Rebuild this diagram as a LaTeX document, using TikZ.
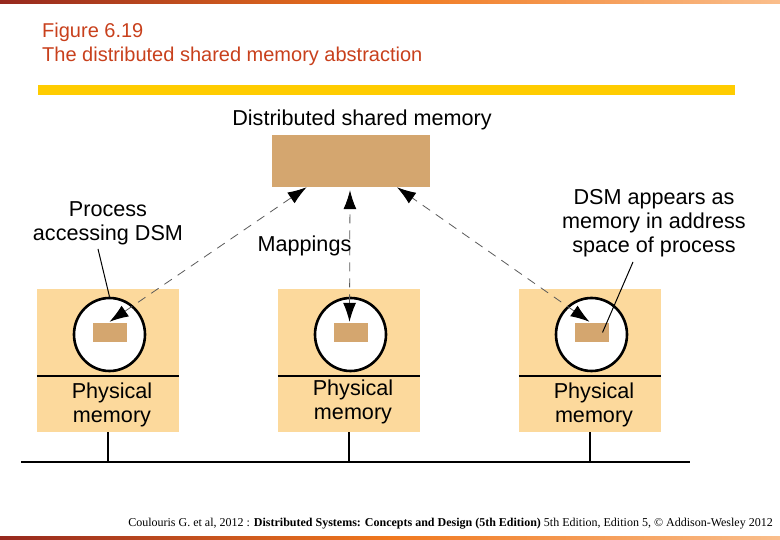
\documentclass[tikz,border=0pt]{standalone}
\usepackage{fontspec}
\setmainfont{Liberation Sans}
\newfontfamily\footfont{Liberation Serif}
\usetikzlibrary{arrows.meta,calc,shapes.geometric}

\definecolor{titlered}{RGB}{200,64,28}
\definecolor{bandyellow}{RGB}{255,204,0}
\definecolor{dsmtan}{RGB}{212,166,111}
\definecolor{machpeach}{RGB}{252,217,156}
\definecolor{mapgrey}{RGB}{90,90,90}

\tikzset{
  machbox/.style={rectangle, fill=machpeach, minimum width=142pt, minimum height=143pt, inner sep=0pt},
  procring/.style={ellipse, draw, line width=2.6pt, fill=white, minimum width=71pt, minimum height=73pt, inner sep=0pt},
  segbox/.style={rectangle, fill=dsmtan, minimum width=34pt, minimum height=19pt, inner sep=0pt},
  bigtext/.style={font=\fontsize{21.6}{24}\selectfont, align=center, inner sep=0pt},
  maptip/.tip={Latex[length=19pt,width=13pt,color=black,fill=black,line width=1pt]},
  mapline/.style={maptip-maptip, mapgrey, line width=0.8pt, dash pattern=on 9pt off 7pt},
  noteline/.style={line width=1pt},
}

\begin{document}
\begin{tikzpicture}[x=1pt,y=-1pt]
    \useasboundingbox (0,0) rectangle (780,540);
    % top and bottom bands
    \shade[left color={rgb,255:red,150;green,40;blue,30}, right color={rgb,255:red,250;green,190;blue,140}, middle color={rgb,255:red,240;green,120;blue,30}] (0,0) rectangle (780,4);
    \shade[left color={rgb,255:red,150;green,40;blue,30}, right color={rgb,255:red,250;green,190;blue,140}, middle color={rgb,255:red,240;green,120;blue,30}] (0,536) rectangle (780,540);
    \node[anchor=west, align=left, inner sep=0pt, text=titlered, font=\fontsize{20}{24}\selectfont] (title) at (42,44) {Figure 6.19\\The distributed shared memory abstraction};
    \fill[bandyellow] (38,85) rectangle (735,95);

    % shared memory
    \node[bigtext] (dsmlabel) at (362,120) {Distributed shared memory};
    \node[rectangle, fill=dsmtan, minimum width=158pt, minimum height=52pt, inner sep=0pt] (dsm) at (351,161) {};

    % the three machines
    \foreach \i/\x/\ty in {1/108/405, 2/349/401.5, 3/590/405} {
        \node[machbox] (mach\i) at (\x,360.5) {};
        \draw[line width=2.2pt] (mach\i.west |- 0,376) -- (mach\i.east |- 0,376);
        \node[procring] (proc\i) at (\x+1.5,334.5) {};
        \node[segbox] (seg\i) at (\x+1.5,332.5) {};
        \node[bigtext] (phys\i) at (\x+4,\ty) {Physical\\memory};
    }

    % network
    \coordinate (busL) at (21,462);
    \coordinate (busR) at (690,462);
    \draw[line width=2.8pt] (busL) -- (busR);
    \foreach \i in {1,2,3}
        \draw[line width=2pt] (mach\i.south) -- (mach\i.south |- busL);

    % mappings
    \draw[mapline] ($(seg1.north)+(0,-1)$) -- ($(dsm.south west)!0.22!(dsm.south east)$);
    \draw[mapline] ($(seg2.north)+(-1,-1)$) -- ($(dsm.south)+(-1,3)$);
    \draw[mapline] ($(seg3.north)+(-2,-1)$) -- ($(dsm.south west)!0.79!(dsm.south east)$);
    \node[bigtext] (maplabel) at (304.5,246) {Mappings};

    % notes
    \node[bigtext] (procnote) at (108,223) {Process\\accessing DSM};
    \draw[noteline] (98,249) -- (proc1.north);
    \node[bigtext] (addrnote) at (654,223) {DSM appears as\\memory in address\\space of process};
    \draw[noteline] (633,262) -- ($(seg3.center)+(11,0)$);

    \node[anchor=east, inner sep=0pt, font=\footfont\fontsize{12}{14}\selectfont] (credit) at (773,524) {Coulouris G. et al, 2012 : \textbf{Distributed Systems: Concepts and Design (5th Edition)} 5th Edition, Edition 5, © Addison-Wesley 2012};
\end{tikzpicture}
\end{document}
